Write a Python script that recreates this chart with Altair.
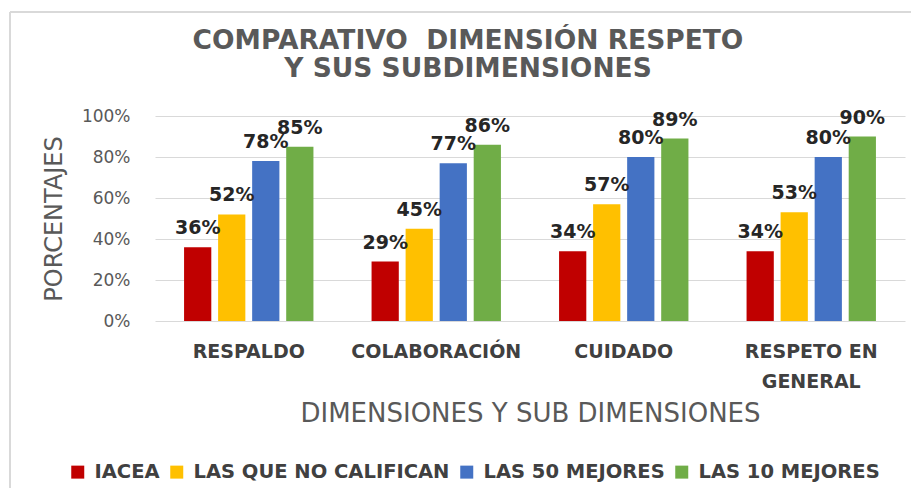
import altair as alt
import pandas as pd

categories = ["RESPALDO", "COLABORACIÓN", "CUIDADO", "RESPETO EN GENERAL"]
series = ["IACEA", "LAS QUE NO CALIFICAN", "LAS 50 MEJORES", "LAS 10 MEJORES"]
iacea = [36, 29, 34, 34]
no_califican = [52, 45, 57, 53]
mejores50 = [78, 77, 80, 80]
mejores10 = [85, 86, 89, 90]
colors = ["#C00000", "#FFC000", "#4472C4", "#70AD47"]
y_ticks = [0, 20, 40, 60, 80, 100]
title_lines = ["COMPARATIVO \u00a0DIMENSIÓN RESPETO", "Y SUS SUBDIMENSIONES"]

rows = []
for s, vals in zip(series, [iacea, no_califican, mejores50, mejores10]):
    for c, v in zip(categories, vals):
        rows.append({"dim": c, "serie": s, "valor": v, "etiqueta": f"{v}%"})
df = pd.DataFrame(rows)

FONT = "DejaVu Sans"

x = alt.X(
    "dim:N",
    sort=categories,
    scale=alt.Scale(paddingInner=0.31, paddingOuter=0.155),
    axis=alt.Axis(
        title="DIMENSIONES Y SUB DIMENSIONES",
        labelAngle=0,
        labelFont=FONT,
        labelFontWeight="bold",
        labelFontSize=19,
        labelColor="#404040",
        labelPadding=21,
        labelLineHeight=30,
        labelLimit=0,
        labelExpr="datum.label == 'RESPETO EN GENERAL' ? ['RESPETO EN', 'GENERAL'] : datum.label",
        ticks=False,
        domain=False,
        titleFont=FONT,
        titleFontSize=26,
        titleFontWeight="normal",
        titleColor="#595959",
        titleY=100,
        titleBaseline="alphabetic",
    ),
)
xo = alt.XOffset("serie:N", sort=series, scale=alt.Scale(paddingInner=0.2, paddingOuter=0))
y = alt.Y(
    "valor:Q",
    scale=alt.Scale(domain=[0, 100]),
    axis=alt.Axis(
        values=y_ticks,
        labelExpr="datum.value + '%'",
        labelFont=FONT,
        labelFontSize=17,
        labelColor="#595959",
        labelPadding=25,
        ticks=False,
        domain=False,
        grid=True,
        gridColor="#d9d9d9",
        gridWidth=1,
        title="PORCENTAJES",
        titleFont=FONT,
        titleFontSize=24,
        titleFontWeight="normal",
        titleColor="#595959",
        titleX=-101,
        titleBaseline="middle",
    ),
)
color = alt.Color(
    "serie:N",
    sort=series,
    scale=alt.Scale(domain=series, range=colors),
    legend=alt.Legend(
        title=None,
        orient="none",
        legendX=-87,
        legendY=346,
        direction="horizontal",
        symbolType="square",
        symbolSize=169,
        symbolStrokeWidth=0,
        symbolOpacity=1,
        labelFont=FONT,
        labelFontSize=19.5,
        labelFontWeight="bold",
        labelColor="#404040",
        labelOffset=7,
        columnPadding=7,
        labelLimit=0,
        padding=0,
    ),
)

base = alt.Chart(df)
bars = base.mark_bar().encode(x=x, xOffset=xo, y=y, color=color)
labels = base.mark_text(
    font=FONT, fontSize=19, fontWeight="bold", color="#262626", dy=-13, baseline="alphabetic"
).encode(x=x, xOffset=xo, y=y, text="etiqueta:N")

frame_df = pd.DataFrame({"k": [0]})
top_line = alt.Chart(frame_df).mark_rule(color="#d9d9d9", strokeWidth=2).encode(
    x=alt.value(-145), x2=alt.value(756), y=alt.value(-104)
)
left_line = alt.Chart(frame_df).mark_rule(color="#d9d9d9", strokeWidth=2).encode(
    x=alt.value(-145), y=alt.value(-104), y2=alt.value(372)
)

chart = (
    alt.layer(top_line, left_line, bars, labels)
    .properties(
        width=750,
        height=205,
        title=alt.TitleParams(
            text=title_lines,
            font=FONT,
            fontSize=26.5,
            fontWeight="bold",
            color="#595959",
            anchor="middle",
            dx=-62,
            lineHeight=28,
            offset=-71,
        ),
        autosize=alt.AutoSizeParams(type="none"),
        padding={"left": 147, "top": 108, "right": 6, "bottom": 167},
    )
    .configure_view(stroke=None)
)

chart.save("out.html", embed_options={"renderer": "svg", "actions": False})
